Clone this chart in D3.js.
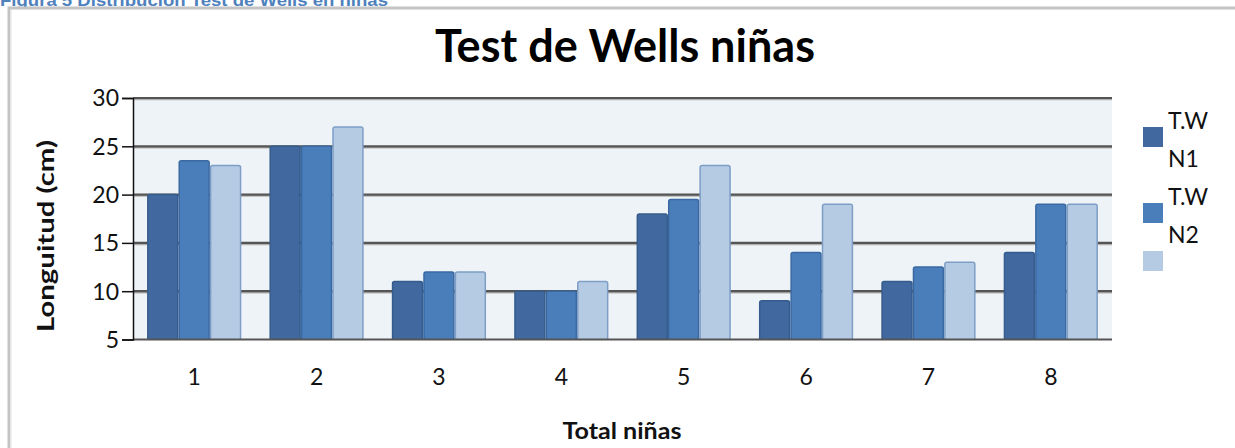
<!DOCTYPE html>
<html><head><meta charset="utf-8">
<script src="https://cdn.jsdelivr.net/npm/d3@7"></script>
<style>body{margin:0;background:#fff;} svg{display:block;}</style>
</head><body>
<svg id="c" width="1235" height="448"></svg>
<script>
const categories = ["1","2","3","4","5","6","7","8"];
const seriesNames = ["T.W N1","T.W N2",""];
const seriesN1 = [20, 25, 11, 10, 18, 9, 11, 14];
const seriesN2 = [23.5, 25, 12, 10, 19.5, 14, 12.5, 19];
const seriesN3 = [23, 27, 12, 11, 23, 19, 13, 19];
const yTicks = [5, 10, 15, 20, 25, 30];

const series = [seriesN1, seriesN2, seriesN3];
const fills = ["#4169a0", "#4a7ebb", "#b5cae3"];
const strokes = ["#355c8c", "#3a69a2", "#7e9ec6"];

const svg = d3.select("#c");
const font = "Lato, 'Open Sans', sans-serif";

// header caption (cut off at top, as in the source)
svg.append("text").attr("x", 0).attr("y", 6)
  .attr("font-family", "'Liberation Sans', Arial, sans-serif").attr("font-weight", "bold")
  .attr("font-size", 17).attr("fill", "#4f81bd")
  .attr("textLength", 388).attr("lengthAdjust", "spacingAndGlyphs")
  .text("Figura 5  Distribución  Test de Wells en niñas");

// frame
svg.append("rect").attr("x", 9).attr("y", 8).attr("width", 1240).attr("height", 460)
  .attr("fill", "none").attr("stroke", "#c4c4c4").attr("stroke-width", 3);
svg.append("line").attr("x1", 11).attr("x2", 11).attr("y1", 10).attr("y2", 448)
  .attr("stroke", "#e4e4e4").attr("stroke-width", 1);

const L = 133, R = 1112, T = 98, B = 339.5;
const x = d3.scaleBand().domain(categories).range([L, R]).paddingInner(0.23).paddingOuter(0.115);
const xs = d3.scaleBand().domain([0,1,2]).range([0, x.bandwidth()]);
const y = d3.scaleLinear().domain([5, 30]).range([B, T]);

// title
svg.append("text").attr("x", 625).attr("y", 62).attr("text-anchor", "middle")
  .attr("font-family", font).attr("font-weight", "bold").attr("font-size", 45)
  .attr("textLength", 380).attr("lengthAdjust", "spacingAndGlyphs")
  .attr("fill", "#000").text("Test de Wells niñas");

// plot background
svg.append("rect").attr("x", L).attr("y", y(30)).attr("width", R - L).attr("height", y(5) - y(30))
  .attr("fill", "#eef3f8");

// gridlines
const g = svg.append("g");
yTicks.filter(d => d > 5).forEach(d => {
  g.append("line").attr("x1", L).attr("x2", R).attr("y1", y(d) + 1.5).attr("y2", y(d) + 1.5)
    .attr("stroke", "#b0b0b0").attr("stroke-width", 1.5);
  g.append("line").attr("x1", L).attr("x2", R).attr("y1", y(d)).attr("y2", y(d))
    .attr("stroke", "#555").attr("stroke-width", 2.2);
});

// bars
categories.forEach((c, i) => {
  series.forEach((s, k) => {
    const bx = x(c) + xs(k), bw = xs.bandwidth();
    svg.append("path")
      .attr("d", () => {
        const x0 = bx + 0.75, x1 = bx + bw - 0.75, y0 = y(s[i]), y1 = y(5), r = 2;
        return `M${x0},${y1}L${x0},${y0 + r}Q${x0},${y0} ${x0 + r},${y0}L${x1 - r},${y0}Q${x1},${y0} ${x1},${y0 + r}L${x1},${y1}`;
      })
      .attr("fill", fills[k]).attr("stroke", strokes[k]).attr("stroke-width", 1.5);
  });
});

// axes
svg.append("line").attr("x1", L).attr("x2", R).attr("y1", B).attr("y2", B)
  .attr("stroke", "#555").attr("stroke-width", 2.2);
const yAxis = svg.append("g").attr("transform", `translate(${L},0)`)
  .call(d3.axisLeft(y).tickValues(yTicks).tickSize(11).tickPadding(3));
yAxis.select(".domain").attr("stroke", "#111").attr("stroke-width", 1.5);
yAxis.selectAll(".tick line").attr("stroke", "#111").attr("stroke-width", 1.5);
yAxis.selectAll("text").attr("font-family", font).attr("font-size", 23).attr("fill", "#111")
  .attr("dy", "0.34em");

const xAxis = svg.append("g").attr("transform", `translate(0,${B})`)
  .call(d3.axisBottom(x).tickSize(0).tickPadding(29));
xAxis.select(".domain").remove();
xAxis.selectAll("text").attr("font-family", font).attr("font-size", 23).attr("fill", "#111");

// axis titles
svg.append("text").attr("transform", "translate(54,236) rotate(-90)").attr("text-anchor", "middle")
  .attr("font-family", font).attr("font-weight", "bold").attr("font-size", 22)
  .attr("textLength", 192).attr("lengthAdjust", "spacingAndGlyphs")
  .attr("fill", "#111").text("Longuitud (cm)");
svg.append("text").attr("x", 622).attr("y", 439).attr("text-anchor", "middle")
  .attr("font-family", font).attr("font-weight", "bold").attr("font-size", 22)
  .attr("textLength", 119).attr("lengthAdjust", "spacingAndGlyphs")
  .attr("fill", "#111").text("Total niñas");

// legend
const legY = [127, 203, 251];
const legLines = [["T.W", "N1"], ["T.W", "N2"], []];
legY.forEach((ly, k) => {
  svg.append("rect").attr("x", 1143).attr("y", ly).attr("width", 20).attr("height", 20)
    .attr("fill", fills[k]);
  legLines[k].forEach((t, j) => {
    svg.append("text").attr("x", 1168).attr("y", ly + 2 + j * 38)
      .attr("font-family", font).attr("font-size", 23).attr("fill", "#111").text(t);
  });
});
</script>
</body></html>
